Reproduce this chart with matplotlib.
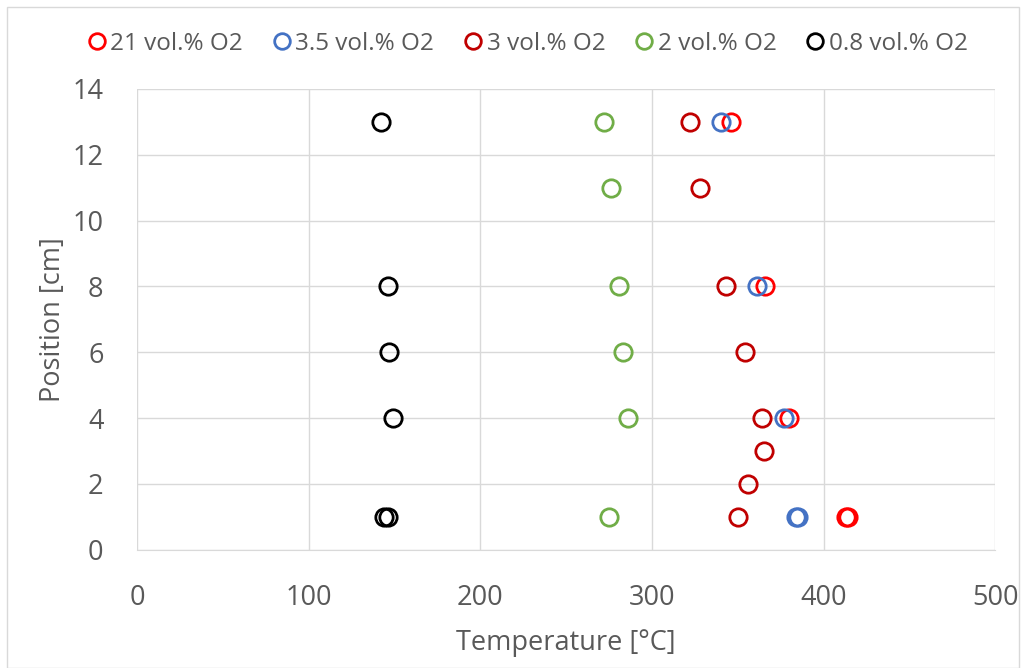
import matplotlib
matplotlib.use("Agg")
import matplotlib.pyplot as plt

plt.rcParams['font.family'] = ['Open Sans', 'DejaVu Sans']

# data: temperature [°C] vs position [cm]
t_21 = [346, 366, 380, 413, 414]
p_21 = [13, 8, 4, 1, 1]

t_35 = [340, 361, 377, 384, 385]
p_35 = [13, 8, 4, 1, 1]

t_3 = [322, 328, 343, 354, 364, 365, 356, 350]
p_3 = [13, 11, 8, 6, 4, 3, 2, 1]

t_2 = [272, 276, 281, 283, 286, 275]
p_2 = [13, 11, 8, 6, 4, 1]

t_08 = [142, 146, 147, 149, 144, 146]
p_08 = [13, 8, 6, 4, 1, 1]

series = [
    (t_21, p_21, '21 vol.% O2', '#FF0000'),
    (t_35, p_35, '3.5 vol.% O2', '#4472C4'),
    (t_3, p_3, '3 vol.% O2', '#C00000'),
    (t_2, p_2, '2 vol.% O2', '#70AD47'),
    (t_08, p_08, '0.8 vol.% O2', '#000000'),
]

fig = plt.figure(figsize=(10.22, 6.68), dpi=100)
ax = fig.add_axes([0.134, 0.177, 0.84, 0.69])

for t, p, lab, c in series:
    ax.plot(t, p, linestyle='none', marker='o', markersize=12.5,
            markerfacecolor='none', markeredgecolor=c, markeredgewidth=2,
            label=lab)

ax.set_xlim(0, 500)
ax.set_ylim(0, 14)
ax.set_xticks(range(0, 501, 100))
ax.set_yticks(range(0, 15, 2))
ax.grid(True, color='#d9d9d9', linewidth=1)
ax.set_axisbelow(True)
for s in ax.spines.values():
    s.set_visible(False)
ax.spines['bottom'].set_visible(True)
ax.spines['bottom'].set_color('#d9d9d9')
ax.tick_params(axis='x', length=0, labelsize=19.5, labelcolor='#595959', pad=25)
ax.tick_params(axis='y', length=0, labelsize=19.5, labelcolor='#595959', pad=24)

ax.set_xlabel('Temperature [°C]', fontsize=19.5, color='#595959', labelpad=12)
ax.set_ylabel('Position [cm]', fontsize=19.5, color='#595959', labelpad=4)

leg = fig.legend(loc='upper center', bbox_to_anchor=(0.515, 0.985), ncol=5,
                 frameon=False, fontsize=17.5, handletextpad=0.05,
                 columnspacing=1.1, handlelength=1.0, markerscale=0.9)
for txt in leg.get_texts():
    txt.set_color('#595959')

fig.patches.append(plt.Rectangle((0.007, 0.0), 0.99, 0.99, transform=fig.transFigure,
                                 fill=False, edgecolor='#d9d9d9', linewidth=1))

fig.savefig('out.png', dpi=100)
